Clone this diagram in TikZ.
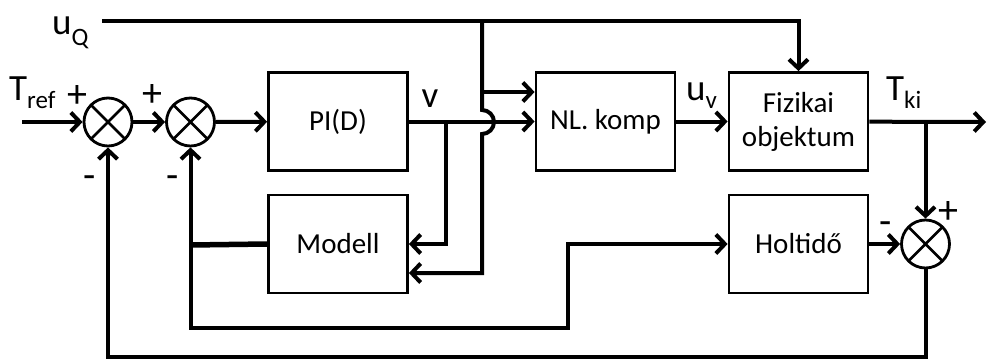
\documentclass[tikz,border=0pt]{standalone}
\usepackage{fontspec}
\setmainfont{Carlito}
\usetikzlibrary{arrows.meta}
\begin{document}
\begin{tikzpicture}[x=1pt,y=-1pt,
  blk/.style={draw, line width=2.8pt, minimum width=139pt, minimum height=98pt, inner sep=0pt, align=center, font=\fontsize{29}{34}\selectfont},
  sumc/.style={draw, circle, line width=2.8pt, minimum size=48pt, inner sep=0pt,
    path picture={\draw[line width=2.8pt] (path picture bounding box.north west) -- (path picture bounding box.south east)
      (path picture bounding box.north east) -- (path picture bounding box.south west);}},
  conn/.style={line width=4pt, -{Straight Barb[length=9pt,width=19pt]}},
  lab/.style={inner sep=0pt, font=\fontsize{37}{37}\selectfont},
  sgn/.style={inner sep=0pt, font=\fontsize{40}{40}\selectfont}]
\useasboundingbox (0,0) rectangle (987,361);
% blocks
\node[blk] (pi) at (338,121.5) {PI(D)};
\node[blk] (nl) at (605.5,121.5) {NL. komp};
\node[blk] (fiz) at (798.5,121.5) {Fizikai\\objektum};
\node[blk] (mod) at (338,244) {Modell};
\node[blk] (holt) at (798.5,244) {Holtidő};
\node[sumc] (s1) at (108,122) {};
\node[sumc] (s2) at (190.5,122) {};
\node[sumc] (s3) at (925.5,244) {};
% coordinates
\coordinate (tin) at (22,122);
\coordinate (uq) at (102,21);
\coordinate (tout) at (986,122);
\coordinate (jv) at (446,122);
\coordinate (jq) at (482,21);
\coordinate (jt) at (925.5,122);
\coordinate (jm) at (190.5,245);
\coordinate (jh) at (568,328);
\coordinate (fb) at (925.5,357);
% connectors
\draw[conn] (tin) -- (s1);
\draw[conn] (s1) -- (s2);
\draw[conn] (s2) -- (pi);
\draw[conn] (pi) -- (nl);
\draw[conn] (jv) |- (mod.east);
\draw[conn] (uq) -| (fiz.north);
\draw[conn] (jq) |- ([yshift=29.5pt]nl.west);
\draw[conn] (jq) -- ++(0,89) arc[start angle=-90, end angle=90, radius=12] |- ([yshift=-29pt]mod.east);
\draw[conn] (nl) -- (fiz);
\draw[conn] (fiz) -- (tout);
\draw[conn] (jt) -- (s3);
\draw[conn] (holt) -- (s3);
\draw[conn] (s3) -- (fb) -| (s1);
\draw[line width=5.5pt] (mod.west) -- (jm);
\draw[conn] (jm) -- (s2);
\draw[conn] (jm) |- (jh) |- (holt.west);
% labels
\node[lab, anchor=base west] (ltref) at (9,100) {T\raisebox{-8pt}{\fontsize{25}{25}\selectfont ref}};
\node[lab, anchor=base west] (luq) at (52,35) {u\raisebox{-10pt}{\fontsize{25}{25}\selectfont Q}};
\node[lab, anchor=base] (lv) at (430,107) {v};
\node[lab, anchor=base west] (luv) at (686,100) {u\raisebox{-8pt}{\fontsize{25}{25}\selectfont v}};
\node[lab, anchor=base west] (ltki) at (886,100) {T\raisebox{-8pt}{\fontsize{25}{25}\selectfont ki}};
\node[sgn] (p1) at (77,97) {+};
\node[sgn] (p2) at (152,96) {+};
\node[sgn] (m1) at (90,182) {-};
\node[sgn] (m2) at (173,182) {-};
\node[sgn] (m3) at (886,228) {-};
\node[sgn] (p3) at (948,213) {+};
\end{tikzpicture}
\end{document}
